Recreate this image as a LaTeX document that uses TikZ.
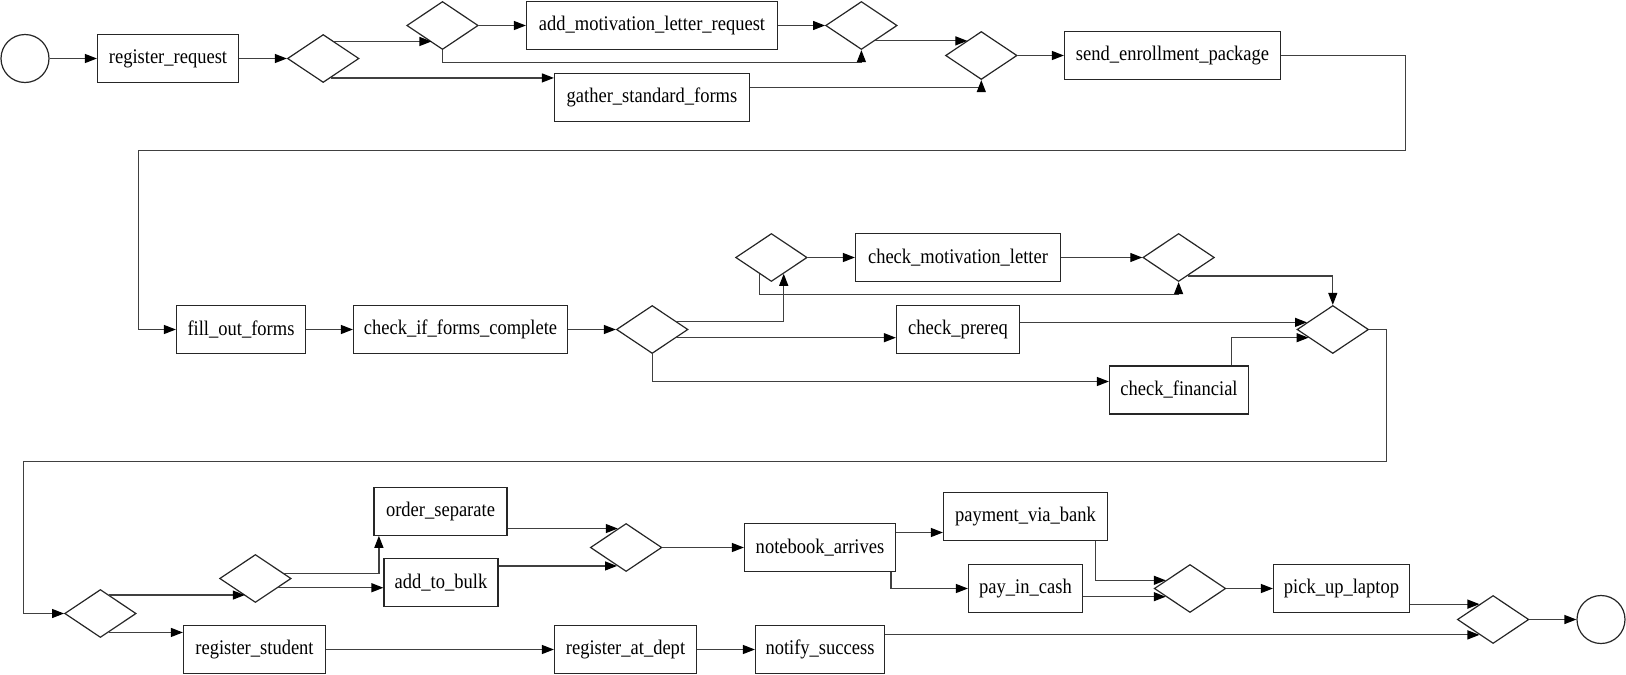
\documentclass[tikz,border=0pt]{standalone}
\usepackage{fontspec}
\setmainfont{Liberation Serif}
\newfontfamily\labelfont[FakeStretch=0.89]{Liberation Serif}
\usetikzlibrary{shapes.geometric,arrows.meta,calc}

\begin{document}
\begin{tikzpicture}[x=1pt,y=-1pt,
  task/.style={draw=black!85, line width=1.2pt, rectangle, minimum height=48pt, inner sep=0pt,
               font=\labelfont\fontsize{20.8}{22}\selectfont},
  gate/.style={draw=black!85, line width=1.2pt, diamond, minimum width=71.5pt, minimum height=48pt, inner sep=0pt},
  event/.style={draw=black!85, line width=1.2pt, circle, minimum size=48pt, inner sep=0pt},
  flow/.style={draw=black!75, line width=1.2pt, -{Triangle[length=12pt,width=9pt,color=black]}},
]
\useasboundingbox (0,0) rectangle (1626,675);

% ---- registration and enrollment package ----
\node[event] (start) at (25,58.5) {};
\node[task, minimum width=141pt] (rr) at (168,58.5) {register\_request};
\node[gate] (d1) at (323.2,58.5) {};
\node[gate] (d2) at (442.5,25.5) {};
\node[task, minimum width=251pt] (amlr) at (652,25.5) {add\_motivation\_letter\_request};
\node[gate] (d3) at (861.4,25.5) {};
\node[task, minimum width=195pt] (gsf) at (652,97.5) {gather\_standard\_forms};
\node[gate] (d4) at (981.3,55.5) {};
\node[task, minimum width=216pt] (sep) at (1172.5,55.5) {send\_enrollment\_package};

% ---- form checks ----
\node[task, minimum width=129pt] (fof) at (241,329.5) {fill\_out\_forms};
\node[task, minimum width=214pt] (cifc) at (460.5,329.5) {check\_if\_forms\_complete};
\node[gate] (d5) at (652.2,329.5) {};
\node[gate] (d6) at (771.4,257.5) {};
\node[task, minimum width=205pt] (cml) at (958,257.5) {check\_motivation\_letter};
\node[gate] (d7) at (1178.6,257.5) {};
\node[task, minimum width=123pt] (cp) at (958,329.5) {check\_prereq};
\node[task, minimum width=139pt] (cf) at (1179,390) {check\_financial};
\node[gate] (d8) at (1332.8,329.5) {};

% ---- laptop and registration ----
\node[gate] (d9) at (100.4,613.5) {};
\node[gate] (d10) at (255.4,578.5) {};
\node[task, minimum width=133pt] (os) at (440.5,511.2) {order\_separate};
\node[task, minimum width=114pt] (atb) at (441,582.8) {add\_to\_bulk};
\node[gate] (d11) at (626.1,547.5) {};
\node[task, minimum width=151pt] (na) at (820,547.5) {notebook\_arrives};
\node[task, minimum width=164pt] (pvb) at (1025.5,516.5) {payment\_via\_bank};
\node[task, minimum width=114pt] (pic) at (1025.5,588.5) {pay\_in\_cash};
\node[gate] (d12) at (1190,588.5) {};
\node[task, minimum width=136pt] (pul) at (1341.5,588.5) {pick\_up\_laptop};
\node[gate] (d13) at (1493.1,619.5) {};
\node[event] (stop) at (1601,619.5) {};
\node[task, minimum width=142pt] (rs) at (254.5,649.5) {register\_student};
\node[task, minimum width=142pt] (rad) at (625.5,649.5) {register\_at\_dept};
\node[task, minimum width=129pt] (ns) at (820,649.5) {notify\_success};

% ---- connectors, first row ----
\draw[flow] (start) -- (rr);
\draw[flow] (rr) -- (d1);
\coordinate (p1) at ($(d1.north)!0.308!(d1.east)$);
\coordinate (q1) at ($(d2.west)!0.696!(d2.south)$);
\draw[flow] (p1) -- (p1 -| q1);
\coordinate (p2) at ($(d1.east)!0.79!(d1.south)$);
\draw[flow] (p2) -- (p2 -| gsf.west);
\draw[flow] (d2) -- (amlr);
\draw[flow] (d2.south) -- ++(0,12) -| (d3.south);
\draw[flow] (amlr) -- (d3);
\coordinate (p3) at ($(d3.east)!0.625!(d3.south)$);
\coordinate (q3) at ($(d4.west)!0.617!(d4.north)$);
\draw[flow] (p3) -- (p3 -| q3);
\draw[flow] ($(gsf.east)+(0,-10)$) -| (d4.south);
\draw[flow] (d4) -- (sep);
\coordinate (r1) at (1405.5,150.5);
\coordinate (r2) at (138.5,150.5);
\draw[flow] (sep.east) -| (r1) -- (r2) |- (fof.west);

% ---- connectors, second row ----
\draw[flow] (fof) -- (cifc);
\draw[flow] (cifc) -- (d5);
\coordinate (p4) at ($(d5.north)!0.6667!(d5.east)$);
\coordinate (q4) at ($(d6.south)!0.339!(d6.east)$);
\draw[flow] (p4) -| (q4);
\coordinate (p5) at ($(d5.east)!0.333!(d5.south)$);
\draw[flow] (p5) -- (p5 -| cp.west);
\draw[flow] (d5.south) |- ($(cf.west)+(0,-8.5)$);
\draw[flow] (d6) -- (cml);
\coordinate (p6) at ($(d6.south)!0.33!(d6.west)$);
\draw[flow] (p6) |- ($(d7.south)+(0,12.5)$) -- (d7.south);
\draw[flow] (cml) -- (d7);
\coordinate (p7) at ($(d7.east)!0.75!(d7.south)$);
\draw[flow] (p7) -| (d8.north);
\coordinate (p8) at ($(d8.west)!0.29!(d8.north)$);
\draw[flow] (p8 -| cp.east) -- (p8);
\coordinate (p9) at ($(d8.west)!0.333!(d8.south)$);
\draw[flow] ($(cf.north)+(52.5,0)$) |- (p9);
\coordinate (r3) at (1386.5,461.5);
\coordinate (r4) at (23.5,461.5);
\draw[flow] (d8.east) -| (r3) -- (r4) |- (d9.west);

% ---- connectors, third row ----
\coordinate (p10) at ($(d9.north)!0.25!(d9.east)$);
\coordinate (q10) at ($(d10.west)!0.708!(d10.south)$);
\draw[flow] (p10) -- (p10 -| q10);
\coordinate (p11) at ($(d9.east)!0.77!(d9.south)$);
\draw[flow] (p11) -- (p11 -| rs.west);
\coordinate (p12) at ($(d10.north)!0.792!(d10.east)$);
\draw[flow] (p12) -| ($(os.south west)+(5.5,0)$);
\coordinate (p13) at ($(d10.east)!0.375!(d10.south)$);
\draw[flow] (p13) -- (p13 -| atb.west);
\coordinate (q14) at ($(d11.west)!0.771!(d11.north)$);
\draw[flow] (q14 -| os.east) -- (q14);
\coordinate (q15) at ($(d11.west)!0.75!(d11.south)$);
\draw[flow] (q15 -| atb.east) -- (q15);
\draw[flow] (d11) -- (na);
\coordinate (p16) at ($(na.east)+(0,-15)$);
\draw[flow] (p16) -- (p16 -| pvb.west);
\draw[flow] ($(na.south)+(71,0)$) |- (pic.west);
\coordinate (q17) at ($(d12.west)!0.333!(d12.north)$);
\draw[flow] ($(pvb.south)+(70,0)$) |- (q17);
\coordinate (q18) at ($(d12.west)!0.333!(d12.south)$);
\draw[flow] (q18 -| pic.east) -- (q18);
\draw[flow] (d12) -- (pul);
\coordinate (q19) at ($(d13.west)!0.625!(d13.north)$);
\draw[flow] (q19 -| pul.east) -- (q19);
\draw[flow] (rs) -- (rad);
\draw[flow] (rad) -- (ns);
\coordinate (q20) at ($(d13.west)!0.625!(d13.south)$);
\draw[flow] (q20 -| ns.east) -- (q20);
\draw[flow] (d13) -- (stop);
\end{tikzpicture}
\end{document}
